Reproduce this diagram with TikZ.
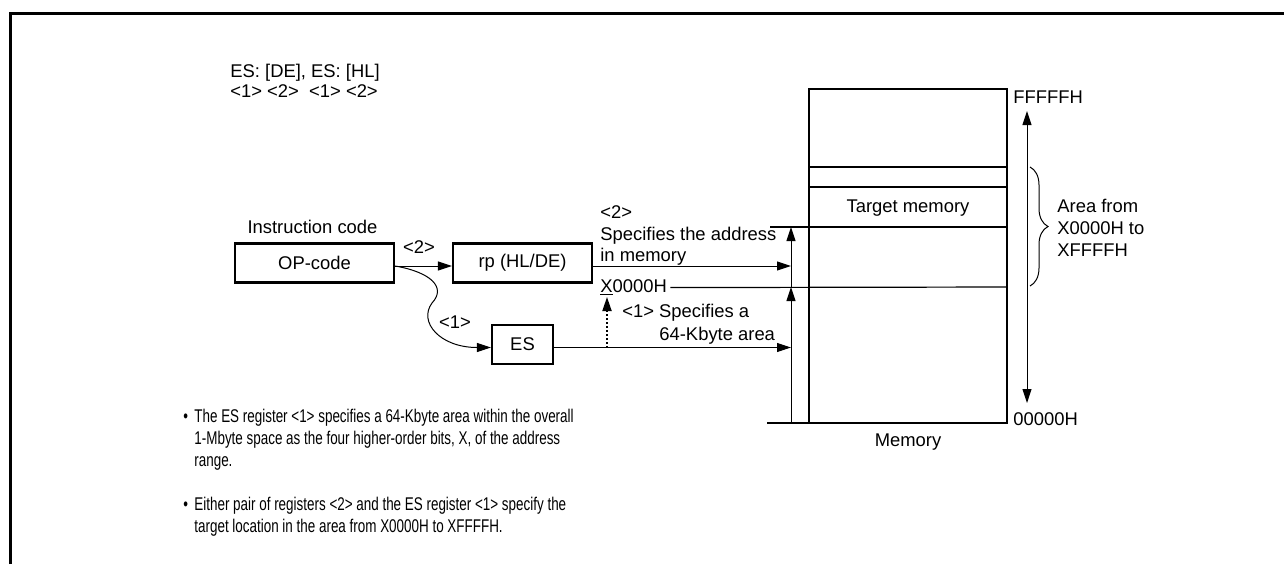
\documentclass[tikz,border=0pt]{standalone}
\usepackage{fontspec}
\setmainfont{Liberation Sans}
\newfontfamily\narrowfont{Liberation Sans}[FakeStretch=0.73]
\usetikzlibrary{arrows.meta,decorations.pathreplacing,positioning}

\tikzset{
    box/.style={draw, line width=1.1pt, inner sep=0pt, minimum height=19.5pt},
    lbl/.style={inner sep=0pt, anchor=base west},
    arr/.style={line width=0.5pt, -{Triangle[length=7pt, width=4.5pt]}},
    arrboth/.style={line width=0.5pt, {Triangle[length=7pt, width=4.5pt]}-{Triangle[length=7pt, width=4.5pt]}},
    thinline/.style={line width=0.6pt},
    note/.style={inner sep=0pt, anchor=base west, align=left, font=\fontsize{9.2pt}{11.2pt}\narrowfont}
}

\begin{document}
\begin{tikzpicture}[x=0.5pt, y=-0.5pt, font=\fontsize{9.2pt}{11.2pt}\selectfont]

        \useasboundingbox (0, 0) rectangle (1284, 564);
        \draw[line width=1.5pt] (10, 564) -- (10, 13) -- (1284, 13);

        \node (syntax) at (230, 77) [lbl] {ES: [DE], ES: [HL]};
        \node (marks) at (230, 97) [lbl] {<1> <2>\ \ <1> <2>};

        \node (opcode) at (314.5, 263) [box, minimum width=79.5pt] {OP-code};
        \node (rp) at (522.5, 263) [box, minimum width=69.5pt] {rp (HL/DE)};
        \node (es) at (522.5, 344.5) [box, minimum width=30.5pt] {ES};
        \node (instr) at (312.5, 233) [lbl, anchor=base] {Instruction code};
        \node (sel2) at (419, 253) [lbl, anchor=base] {<2>};
        \node (sel1) at (455, 328) [lbl, anchor=base] {<1>};

        \node (mem) at (908, 256) [draw, line width=1.2pt, inner sep=0pt, minimum width=99pt, minimum height=167pt] {};
        \node (target) at (908, 212) [lbl, anchor=base] {Target memory};
        \node (memlbl) at (908, 446) [lbl, anchor=base] {Memory};
        \node (top) at (1013, 103) [lbl] {FFFFFH};
        \node (bottom) at (1013, 425) [lbl] {00000H};
        \node (area) at (1057, 256.8) [lbl, align=left] {Area from\\X0000H to\\XFFFFH};

        \node (addr2) at (600, 218) [lbl] {<2>};
        \node (addr) at (600, 240) [lbl] {Specifies the address};
        \node (inmem) at (600, 261) [lbl] {in memory};
        \node (x0000) at (600, 292) [lbl] {\underline{X}0000H};
        \node (area1) at (622, 317) [lbl] {<1> Specifies a};
        \node (area2) at (659, 340) [lbl] {64-Kbyte area};

        \coordinate (vbot) at (791, 423);
        \coordinate (vmid) at (791, 287);
        \coordinate (vtop) at (791, 227);
        \coordinate (dotfoot) at (607, 347.5);
        \coordinate (dottip) at (607, 297);
        \coordinate (upper) at (1027, 111);
        \coordinate (lower) at (1027, 403);

        \draw[thinline] (809, 167) -- (1007, 167);
        \draw[thinline] (809, 187) -- (1007, 187);
        \draw[thinline] (770, 227) -- (1007, 227);
        \draw[thinline] ([xshift=1.5pt]x0000.east) -- (1007, 287);
        \draw[thinline] (767, 423) -- (809, 423);

        \draw[arr] ([yshift=-1.5pt]opcode.east) -- ([yshift=-1.5pt]rp.west);
        \draw[arr] ([yshift=-1.5pt]opcode.east) .. controls (430, 272) and (447, 287) .. (432, 303)
            .. controls (418, 322) and (440, 347.5) .. ([yshift=-1.5pt]es.west);
        \draw[arr] ([yshift=-1.5pt]rp.east) -- ([yshift=-1.5pt]rp.east -| vmid);
        \draw[arr] ([yshift=-1.5pt]es.east) -- ([yshift=-1.5pt]es.east -| vmid);
        \draw[arr] (vbot) -- (vmid);
        \draw[arr] (vmid) -- (vtop);
        \draw[arr, line width=0.9pt, dash pattern=on 1pt off 1pt] (dotfoot) -- (dottip);
        \draw[arrboth] (lower) -- (upper);
        \draw[line width=0.5pt, decorate, decoration={brace, amplitude=9pt}] (1030, 167) -- (1030, 286);

        \node (bul1) at (183, 422) [note] {\textbullet};
        \node (note1) at (194, 466.8) [note] {The ES register <1> specifies a 64-Kbyte area within the overall\\1-Mbyte space as the four higher-order bits, X, of the address\\range.};
        \node (bul2) at (183, 510) [note] {\textbullet};
        \node (note2) at (194, 532.4) [note] {Either pair of registers <2> and the ES register <1> specify the\\target location in the area from X0000H to XFFFFH.};

\end{tikzpicture}
\end{document}
